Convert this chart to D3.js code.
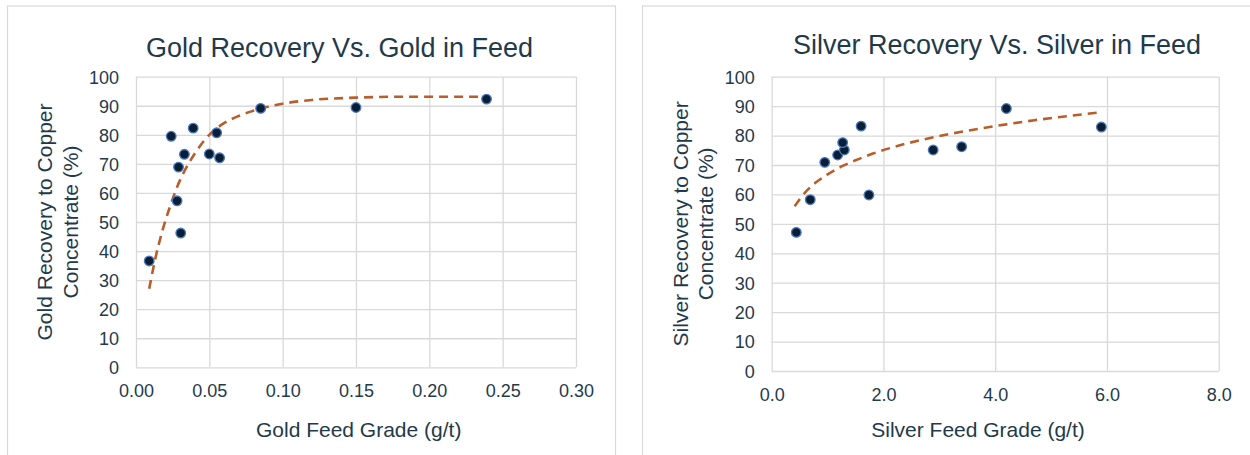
<!DOCTYPE html>
<html>
<head>
<meta charset="utf-8">
<script src="https://cdn.jsdelivr.net/npm/d3@7"></script>
<style>
  html, body { margin: 0; padding: 0; background: #ffffff; }
  svg { display: block; font-family: "Liberation Sans", Arial, sans-serif; }
</style>
</head>
<body>
<svg id="chart" width="1250" height="455"></svg>
<script>
// ---- Data ----
const goldFeed      = [0.009, 0.024, 0.039, 0.033, 0.029, 0.028, 0.0305, 0.050, 0.055, 0.057, 0.085, 0.150, 0.239];
const goldRecovery  = [36.6, 79.5, 82.3, 73.3, 68.9, 57.3, 46.2, 73.4, 80.7, 72.1, 89.1, 89.4, 92.3];
const goldTrendX    = [0.009, 0.013, 0.018, 0.023, 0.028, 0.033, 0.040, 0.050, 0.060, 0.070, 0.085, 0.100, 0.120, 0.150, 0.180, 0.210, 0.239];
const goldTrendY    = [27, 37, 47, 55, 62, 67.5, 73.5, 80, 84, 86.5, 89, 90.7, 92, 92.8, 93.1, 93.1, 93.1];

const silverFeed     = [0.44, 0.69, 0.95, 1.18, 1.30, 1.27, 1.60, 1.74, 2.89, 3.40, 4.20, 5.90];
const silverRecovery = [47.1, 58.2, 70.9, 73.4, 75.1, 77.6, 83.2, 59.8, 75.1, 76.2, 89.2, 82.9];
const silverTrendX   = [0.41, 0.6, 0.8, 1.0, 1.25, 1.5, 1.8, 2.2, 2.7, 3.2, 3.7, 4.2, 4.7, 5.2, 5.85];
const silverTrendY   = [56, 60.7, 64.2, 66.8, 69.5, 71.6, 73.8, 76.2, 78.6, 80.6, 82.3, 83.8, 85.2, 86.4, 87.8];

const goldXTicks   = [0, 0.05, 0.10, 0.15, 0.20, 0.25, 0.30];
const goldXLabels  = ["0.00", "0.05", "0.10", "0.15", "0.20", "0.25", "0.30"];
const silverXTicks  = [0, 2, 4, 6, 8];
const silverXLabels = ["0.0", "2.0", "4.0", "6.0", "8.0"];
const yTicks = [0, 10, 20, 30, 40, 50, 60, 70, 80, 90, 100];

const titles  = ["Gold Recovery Vs. Gold in Feed", "Silver Recovery Vs. Silver in Feed"];
const xTitles = ["Gold Feed Grade (g/t)", "Silver Feed Grade (g/t)"];
const yTitles = [["Gold Recovery to Copper", "Concentrate (%)"], ["Silver Recovery to Copper", "Concentrate (%)"]];

// ---- Styles ----
const textColor = "#1f3a4b";
const gridColor = "#d9d9d9";
const dotFill = "#0b1f33";
const dotStroke = "#4a78c2";
const trendColor = "#b95d2a";

const svg = d3.select("#chart");

// Panel frames
svg.append("rect").attr("x", 7.5).attr("y", 6).attr("width", 608).attr("height", 470)
  .attr("fill", "#fff").attr("stroke", gridColor).attr("stroke-width", 1.2);
svg.append("rect").attr("x", 642.5).attr("y", 6).attr("width", 640).attr("height", 470)
  .attr("fill", "#fff").attr("stroke", gridColor).attr("stroke-width", 1.2);

function drawChart(cfg) {
  const x = d3.scaleLinear().domain(cfg.xDomain).range([cfg.left, cfg.right]);
  const y = d3.scaleLinear().domain([0, 100]).range([cfg.bottom, cfg.top]);
  const g = svg.append("g");

  // Grid via axes
  const gx = g.append("g").attr("transform", `translate(0,${cfg.bottom})`)
    .call(d3.axisBottom(x).tickValues(cfg.xTicks).tickSize(-(cfg.bottom - cfg.top))
      .tickFormat((d, i) => cfg.xLabels[i]).tickPadding(0));
  const gy = g.append("g").attr("transform", `translate(${cfg.left},0)`)
    .call(d3.axisLeft(y).tickValues(yTicks).tickSize(-(cfg.right - cfg.left))
      .tickFormat(d3.format("d")).tickPadding(0));

  [gx, gy].forEach(a => {
    a.select(".domain").remove();
    a.selectAll(".tick line").attr("stroke", gridColor).attr("stroke-width", 1.3);
    a.selectAll(".tick text").attr("fill", textColor).style("font-size", "18px")
      .style("font-family", "'Liberation Sans', Arial, sans-serif");
  });
  gx.selectAll(".tick text").attr("y", 0).attr("dy", "0").attr("transform", "translate(0,30)");
  gy.selectAll(".tick text").attr("x", -17).attr("dy", "0.35em");

  // Trendline
  const line = d3.line().x(d => x(d[0])).y(d => y(d[1])).curve(d3.curveMonotoneX);
  g.append("path").datum(d3.zip(cfg.trendX, cfg.trendY))
    .attr("d", line).attr("fill", "none").attr("stroke", trendColor)
    .attr("stroke-width", 2.6).attr("stroke-dasharray", "9,6");

  // Points
  g.selectAll("circle.pt").data(d3.zip(cfg.xs, cfg.ys)).join("circle")
    .attr("class", "pt")
    .attr("cx", d => x(d[0])).attr("cy", d => y(d[1])).attr("r", 4.8)
    .attr("fill", dotFill).attr("stroke", dotStroke).attr("stroke-width", 1.3);

  // Title
  g.append("text").attr("x", cfg.titleX).attr("y", cfg.titleY).attr("text-anchor", "middle")
    .attr("fill", textColor).style("font-size", "27px").text(cfg.title);

  // X title
  g.append("text").attr("x", cfg.xTitleX).attr("y", 437).attr("text-anchor", "middle")
    .attr("fill", textColor).style("font-size", "21px").text(cfg.xTitle);

  // Y title (two lines rotated)
  const yc = (cfg.top + cfg.bottom) / 2;
  cfg.yTitle.forEach((t, i) => {
    const cx = cfg.yTitleX[i];
    g.append("text").attr("transform", `translate(${cx},${yc}) rotate(-90)`)
      .attr("text-anchor", "middle").attr("dy", "0.35em")
      .attr("fill", textColor).style("font-size", "21px").text(t);
  });
}

drawChart({
  xDomain: [0, 0.3], left: 136, right: 576, top: 76.7, bottom: 367.3,
  xTicks: goldXTicks, xLabels: goldXLabels,
  xs: goldFeed, ys: goldRecovery, trendX: goldTrendX, trendY: goldTrendY,
  title: titles[0], titleX: 339.5, titleY: 57,
  xTitle: xTitles[0], xTitleX: 358.7,
  yTitle: yTitles[0], yTitleX: [45, 71]
});

drawChart({
  xDomain: [0, 8], left: 771.7, right: 1218.7, top: 76.7, bottom: 371,
  xTicks: silverXTicks, xLabels: silverXLabels,
  xs: silverFeed, ys: silverRecovery, trendX: silverTrendX, trendY: silverTrendY,
  title: titles[1], titleX: 997, titleY: 54,
  xTitle: xTitles[1], xTitleX: 978,
  yTitle: yTitles[1], yTitleX: [680.6, 706]
});
</script>
</body>
</html>
